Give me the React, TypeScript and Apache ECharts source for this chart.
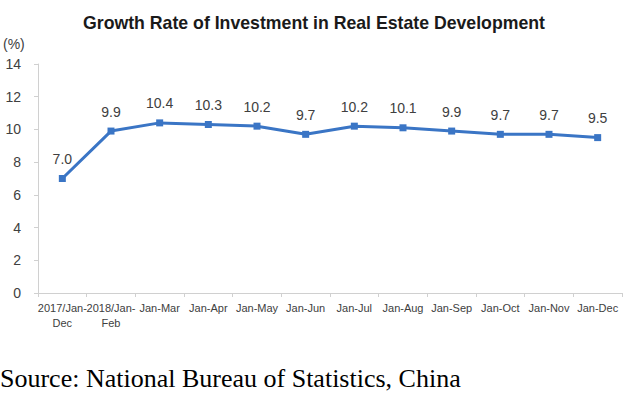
import React, { useEffect, useRef } from "react";
import * as echarts from "echarts";

const categories = [
  "2017/Jan-\nDec",
  "2018/Jan-\nFeb",
  "Jan-Mar",
  "Jan-Apr",
  "Jan-May",
  "Jan-Jun",
  "Jan-Jul",
  "Jan-Aug",
  "Jan-Sep",
  "Jan-Oct",
  "Jan-Nov",
  "Jan-Dec",
];
const growthRate = [7.0, 9.9, 10.4, 10.3, 10.2, 9.7, 10.2, 10.1, 9.9, 9.7, 9.7, 9.5];

export default function App() {
  const ref = useRef<HTMLDivElement>(null);
  useEffect(() => {
    document.body.style.margin = "0";
    const chart = echarts.init(ref.current!, null, { renderer: "svg" });
    chart.setOption({
      animation: false,
      backgroundColor: "#ffffff",
      title: {
        text: "Growth Rate of Investment in Real Estate Development",
        left: "center",
        top: 9,
        textStyle: {
          fontFamily: "Liberation Sans, Arial, sans-serif",
          fontSize: 17.7,
          fontWeight: "bold",
          color: "#1a1a1a",
        },
      },
      graphic: [
        {
          type: "text",
          left: 3,
          top: 37,
          style: {
            text: "(%)",
            font: "14px 'Liberation Sans', Arial, sans-serif",
            fill: "#404040",
          },
        },
        {
          type: "text",
          left: 0,
          top: 365,
          style: {
            text: "Source: National Bureau of Statistics, China",
            font: "26px 'Liberation Serif', 'Times New Roman', serif",
            fill: "#000000",
          },
        },
      ],
      grid: { left: 38, right: 6, top: 64, bottom: 106 },
      xAxis: {
        type: "category",
        data: categories,
        boundaryGap: true,
        axisLine: { lineStyle: { color: "#d0d0d0", width: 1 } },
        axisTick: { show: true, alignWithLabel: false, length: 4, lineStyle: { color: "#d0d0d0" } },
        axisLabel: {
          interval: 0,
          color: "#404040",
          fontSize: 11,
          fontFamily: "Liberation Sans, Arial, sans-serif",
          margin: 7,
          lineHeight: 15,
        },
      },
      yAxis: {
        type: "value",
        min: 0,
        max: 14,
        interval: 2,
        axisLine: { show: true, lineStyle: { color: "#d0d0d0", width: 1 } },
        axisTick: { show: true, length: 4, lineStyle: { color: "#d0d0d0" } },
        splitLine: { show: false },
        axisLabel: {
          color: "#404040",
          fontSize: 14,
          fontFamily: "Liberation Sans, Arial, sans-serif",
          margin: 17,
        },
      },
      series: [
        {
          type: "line",
          data: growthRate,
          symbol: "rect",
          symbolSize: 7,
          lineStyle: { color: "#3a75c5", width: 3 },
          itemStyle: { color: "#3a75c5" },
          label: {
            show: true,
            position: "top",
            distance: 9,
            color: "#404040",
            fontSize: 14,
            fontFamily: "Liberation Sans, Arial, sans-serif",
            formatter: (p: any) => Number(p.value).toFixed(1),
          },
        },
      ],
    });
    return () => chart.dispose();
  }, []);
  return <div ref={ref} style={{ width: 628, height: 399 }} />;
}
